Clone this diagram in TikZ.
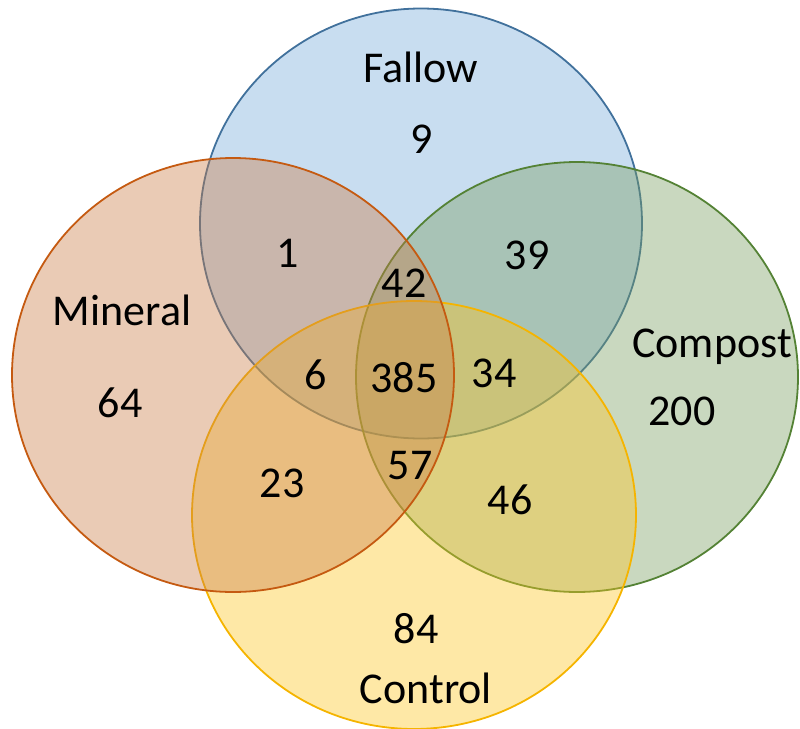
\documentclass[tikz,border=0pt]{standalone}
\usepackage{fontspec}
\setmainfont{Carlito}
\definecolor{minfill}{RGB}{203,125,70}
\definecolor{minedge}{HTML}{C55A11}
\definecolor{falfill}{RGB}{118,170,218}
\definecolor{faledge}{HTML}{41719C}
\definecolor{comfill}{RGB}{120,157,95}
\definecolor{comedge}{HTML}{548235}
\definecolor{confill}{RGB}{253,198,33}
\definecolor{conedge}{HTML}{F5B400}
\begin{document}
\begin{tikzpicture}[x=0.5pt,y=-0.5pt,
  setfill/.style={fill opacity=0.4, draw opacity=1, line width=0.9pt},
  lab/.style={anchor=base, inner sep=0pt, font=\fontsize{22}{26}\selectfont}]
\useasboundingbox (0,0) rectangle (800,729);
\draw[setfill, fill=falfill, draw=faledge] (421,223.5) ellipse [x radius=110.5pt, y radius=107.5pt];
\draw[setfill, fill=comfill, draw=comedge] (577,377) ellipse [x radius=110.5pt, y radius=107.5pt];
\draw[setfill, fill=confill, draw=conedge] (414,515) ellipse [x radius=111pt, y radius=107pt];
\draw[setfill, fill=minfill, draw=minedge] (233,375) ellipse [x radius=110.5pt, y radius=108.5pt];
\node[lab] (fallow) at (421,82) {Fallow};
\node[lab] (n9) at (422,153) {9};
\node[lab] (mineral) at (122,325) {Mineral};
\node[lab] (n64) at (120,417) {64};
\node[lab] (compost) at (712,357) {Compost};
\node[lab] (n200) at (682,425) {200};
\node[lab] (control) at (426,703) {Control};
\node[lab] (n84) at (416,643) {84};
\node[lab] (n1) at (288,267) {1};
\node[lab] (n42) at (404,297) {42};
\node[lab] (n39) at (527,269) {39};
\node[lab] (n6) at (316,389) {6};
\node[lab] (n385) at (404,392) {385};
\node[lab] (n34) at (494,387) {34};
\node[lab] (n23) at (282,497) {23};
\node[lab] (n57) at (410,479) {57};
\node[lab] (n46) at (510,514) {46};
\end{tikzpicture}
\end{document}
